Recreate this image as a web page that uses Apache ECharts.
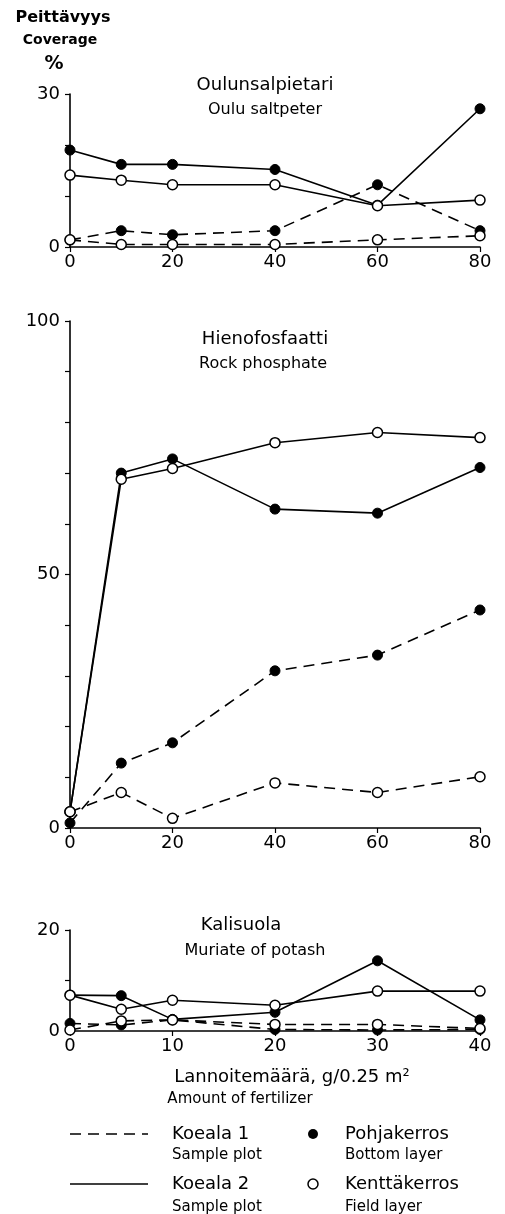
<!DOCTYPE html>
<html>
<head>
<meta charset="utf-8">
<script src="https://cdn.jsdelivr.net/npm/echarts@6/dist/echarts.min.js"></script>
<style>
html,body{margin:0;padding:0;background:#fff;}
#chart{width:505px;height:1214px;}
</style>
</head>
<body>
<div id="chart"></div>
<script>
// ---- Data ----
const panelTitles = [
  ['Oulunsalpietari', 'Oulu saltpeter'],
  ['Hienofosfaatti', 'Rock phosphate'],
  ['Kalisuola', 'Muriate of potash']
];
// Panel 1: Oulu saltpeter
const topX = [0, 10, 20, 40, 60, 80];
const topK1Bottom = [1.4, 3.2, 2.4, 3.2, 12.2, 3.2];
const topK1Field  = [1.4, 0.5, 0.5, 0.5, 1.4, 2.2];
const topK2Bottom = [19.0, 16.2, 16.2, 15.2, 8.2, 27.1];
const topK2Field  = [14.1, 13.1, 12.2, 12.2, 8.1, 9.2];
// Panel 2: Rock phosphate
const midX = [0, 10, 20, 40, 60, 80];
const midK1Bottom = [1.0, 12.8, 16.8, 31.0, 34.1, 43.0];
const midK1Field  = [3.2, 7.0, 1.9, 8.9, 7.0, 10.1];
const midK2Bottom = [3.2, 70.0, 72.8, 62.9, 62.1, 71.1];
const midK2Field  = [3.2, 68.8, 70.9, 76.0, 78.0, 77.0];
// Panel 3: Muriate of potash
const botX = [0, 5, 10, 20, 30, 40];
const botK1Bottom = [1.5, 1.2, 2.2, 0.3, 0.2, 0.3];
const botK1Field  = [0.2, 2.0, 2.2, 1.3, 1.3, 0.5];
const botK2Bottom = [7.1, 7.0, 2.3, 3.7, 13.9, 2.2];
const botK2Field  = [7.1, 4.3, 6.1, 5.1, 7.9, 7.9];
// Axis settings / tick labels
const yMax = [30, 100, 20];
const yLabelShown = [[0, 30], [0, 50, 100], [0, 20]];
const xMax = [80, 80, 40];
const xInterval = [20, 20, 10];

// ---- Chart ----
const FONT = 'DejaVu Sans';
const grids = [
  {left: 70, width: 410, top: 94, height: 153},
  {left: 70, width: 410, top: 321, height: 507},
  {left: 70, width: 410, top: 930, height: 101}
];
const xAxes = grids.map((g, i) => ({
  type: 'value', gridIndex: i, min: 0, max: xMax[i], interval: xInterval[i],
  axisLine: {show: true, onZero: false, lineStyle: {color: '#000', width: 1.6}},
  axisTick: {show: true, inside: false, length: 5, lineStyle: {color: '#000', width: 1.2}},
  axisLabel: {color: '#000', fontFamily: FONT, fontSize: 18, margin: 6},
  splitLine: {show: false}
}));
const yAxes = grids.map((g, i) => ({
  type: 'value', gridIndex: i, min: 0, max: yMax[i], interval: 10,
  axisLine: {show: true, onZero: false, lineStyle: {color: '#000', width: 1.6}},
  axisTick: {show: true, inside: false, length: 5, lineStyle: {color: '#000', width: 1.2}},
  axisLabel: {color: '#000', fontFamily: FONT, fontSize: 18, margin: 10,
    formatter: v => yLabelShown[i].indexOf(v) >= 0 ? String(v) : ''},
  splitLine: {show: false}
}));

function mk(name, xs, ys, idx, dashed, filled) {
  return {
    name: name, type: 'line', xAxisIndex: idx, yAxisIndex: idx,
    data: xs.map((x, k) => [x, ys[k]]),
    symbol: 'circle', symbolSize: 10, showSymbol: true,
    lineStyle: {color: '#000', width: 1.6, type: dashed ? [11, 7] : 'solid'},
    itemStyle: filled ? {color: '#000', borderColor: '#000', borderWidth: 1}
                      : {color: '#fff', borderColor: '#000', borderWidth: 1.5},
    z: filled ? 3 : 4,
    emphasis: {disabled: true},
    animation: false
  };
}
const series = [
  mk('K1 Pohja', topX, topK1Bottom, 0, true, true),
  mk('K1 Kenttä', topX, topK1Field, 0, true, false),
  mk('K2 Pohja', topX, topK2Bottom, 0, false, true),
  mk('K2 Kenttä', topX, topK2Field, 0, false, false),
  mk('K1 Pohja', midX, midK1Bottom, 1, true, true),
  mk('K1 Kenttä', midX, midK1Field, 1, true, false),
  mk('K2 Pohja', midX, midK2Bottom, 1, false, true),
  mk('K2 Kenttä', midX, midK2Field, 1, false, false),
  mk('K1 Pohja', botX, botK1Bottom, 2, true, true),
  mk('K1 Kenttä', botX, botK1Field, 2, true, false),
  mk('K2 Pohja', botX, botK2Bottom, 2, false, true),
  mk('K2 Kenttä', botX, botK2Field, 2, false, false)
];

function txt(x, y, text, size, opts) {
  opts = opts || {};
  return {type: 'text', x: x, y: y, z: 10,
    style: {text: text, fill: '#000', font: (opts.bold ? 'bold ' : '') + size + 'px ' + FONT,
      textAlign: opts.align || 'left', textVerticalAlign: 'middle'}};
}
const titleY = [[85, 110], [339, 364], [925, 951]];
const titleX = [[265, 265], [265, 263], [241, 255]];
const graphics = [];
panelTitles.forEach((t, i) => {
  graphics.push(txt(titleX[i][0], titleY[i][0], t[0], 18, {align: 'center'}));
  graphics.push(txt(titleX[i][1], titleY[i][1], t[1], 16, {align: 'center'}));
});
graphics.push(txt(63, 18, 'Peittävyys', 16, {align: 'center', bold: true}));
graphics.push(txt(60, 40, 'Coverage', 14, {align: 'center', bold: true}));
graphics.push(txt(54, 64, '%', 19, {align: 'center', bold: true}));
graphics.push(txt(292, 1077, 'Lannoitemäärä, g/0.25 m²', 18, {align: 'center'}));
graphics.push(txt(240, 1099, 'Amount of fertilizer', 15, {align: 'center'}));
// Legend
graphics.push({type: 'line', shape: {x1: 70, y1: 1134, x2: 148, y2: 1134},
  style: {stroke: '#000', lineWidth: 1.6, lineDash: [11, 7]}});
graphics.push({type: 'line', shape: {x1: 70, y1: 1184, x2: 148, y2: 1184},
  style: {stroke: '#000', lineWidth: 1.6}});
graphics.push({type: 'circle', shape: {cx: 313, cy: 1134, r: 5}, style: {fill: '#000'}});
graphics.push({type: 'circle', shape: {cx: 313, cy: 1184, r: 5}, style: {fill: '#fff', stroke: '#000', lineWidth: 1.5}});
graphics.push(txt(172, 1134, 'Koeala 1', 18));
graphics.push(txt(172, 1155, 'Sample plot', 15));
graphics.push(txt(172, 1184, 'Koeala 2', 18));
graphics.push(txt(172, 1207, 'Sample plot', 15));
graphics.push(txt(345, 1134, 'Pohjakerros', 18));
graphics.push(txt(345, 1155, 'Bottom layer', 15));
graphics.push(txt(345, 1184, 'Kenttäkerros', 18));
graphics.push(txt(345, 1207, 'Field layer', 15));

const chart = echarts.init(document.getElementById('chart'), null, {renderer: 'canvas'});
chart.setOption({
  animation: false,
  backgroundColor: '#fff',
  grid: grids,
  xAxis: xAxes,
  yAxis: yAxes,
  series: series,
  graphic: graphics,
  tooltip: {show: false}
});
</script>
</body>
</html>
